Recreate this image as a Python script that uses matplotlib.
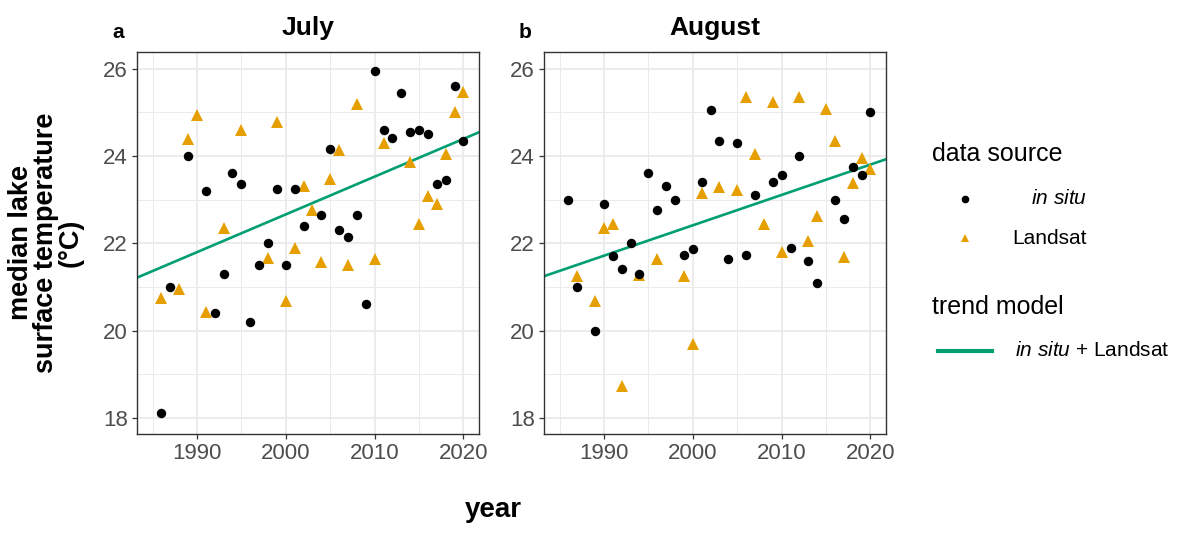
import numpy as np
import matplotlib.pyplot as plt
from matplotlib.ticker import MultipleLocator

plt.rcParams['font.family'] = ['Liberation Sans', 'DejaVu Sans']
plt.rcParams['mathtext.fontset'] = 'custom'
plt.rcParams['mathtext.rm'] = 'Liberation Sans'
plt.rcParams['mathtext.it'] = 'Liberation Sans:italic'

# July, in situ
jul_insitu_year = [1986, 1987, 1989, 1991, 1992, 1993, 1994, 1995, 1996, 1997, 1998,
                   1999, 2000, 2001, 2002, 2004, 2005, 2006, 2007, 2008, 2009, 2010,
                   2011, 2012, 2013, 2014, 2015, 2016, 2017, 2018, 2019, 2020]
jul_insitu_temp = [18.1, 21.0, 24.0, 23.2, 20.4, 21.3, 23.6, 23.35, 20.2, 21.5, 22.0,
                   23.25, 21.5, 23.25, 22.4, 22.65, 24.15, 22.3, 22.15, 22.65, 20.6, 25.95,
                   24.6, 24.4, 25.45, 24.55, 24.6, 24.5, 23.35, 23.45, 25.6, 24.35]
# July, Landsat
jul_landsat_year = [1986, 1988, 1989, 1990, 1991, 1993, 1995, 1998, 1999, 2000, 2001,
                    2002, 2003, 2004, 2005, 2006, 2007, 2008, 2010, 2011, 2014, 2015,
                    2016, 2017, 2018, 2019, 2020]
jul_landsat_temp = [20.75, 20.95, 24.38, 24.93, 20.42, 22.36, 24.59, 21.65, 24.78, 20.67, 21.88,
                    23.32, 22.75, 21.57, 23.46, 24.13, 21.5, 25.2, 21.63, 24.3, 23.85, 22.43,
                    23.08, 22.9, 24.04, 25.0, 25.47]

# August, in situ
aug_insitu_year = [1986, 1987, 1989, 1990, 1991, 1992, 1993, 1994, 1995, 1996, 1997,
                   1998, 1999, 2000, 2001, 2002, 2003, 2004, 2005, 2006, 2007, 2009,
                   2010, 2011, 2012, 2013, 2014, 2016, 2017, 2018, 2019, 2020]
aug_insitu_temp = [23.0, 21.0, 20.0, 22.9, 21.7, 21.4, 22.0, 21.3, 23.6, 22.76, 23.3,
                   23.0, 21.74, 21.86, 23.4, 25.05, 24.35, 21.64, 24.3, 21.74, 23.1, 23.4,
                   23.56, 21.9, 24.0, 21.6, 21.1, 23.0, 22.55, 23.75, 23.56, 25.0]
# August, Landsat
aug_landsat_year = [1987, 1989, 1990, 1991, 1992, 1994, 1996, 1999, 2000, 2001, 2003,
                    2005, 2006, 2007, 2008, 2009, 2010, 2012, 2013, 2014, 2015, 2016,
                    2017, 2018, 2019, 2020]
aug_landsat_temp = [21.25, 20.68, 22.36, 22.45, 18.73, 21.27, 21.64, 21.25, 19.7, 23.16, 23.29,
                    23.21, 25.34, 24.04, 22.44, 25.24, 21.8, 25.35, 22.06, 22.63, 25.08, 24.33,
                    21.69, 23.39, 23.96, 23.71]

# trend model (in situ + Landsat): value at 2000 and slope per year
jul_trend = (22.66, 0.0865)
aug_trend = (22.41, 0.0696)

months = ['July', 'August']
panel_tags = ['a', 'b']

fig = plt.figure(figsize=(12, 5.33), dpi=100)
W, H = 1200, 533
xlim = (1983.25, 2021.75)
ylim = (17.63, 26.38)

panels = [
    (137, jul_insitu_year, jul_insitu_temp, jul_landsat_year, jul_landsat_temp, jul_trend),
    (544, aug_insitu_year, aug_insitu_temp, aug_landsat_year, aug_landsat_temp, aug_trend),
]

for k, (left_px, iy, it, ly, lt, trend) in enumerate(panels):
    ax = fig.add_axes([left_px / W, 1 - 434 / H, 342 / W, 382 / H])
    ax.set_xlim(*xlim)
    ax.set_ylim(*ylim)
    ax.xaxis.set_major_locator(MultipleLocator(10))
    ax.xaxis.set_minor_locator(MultipleLocator(5))
    ax.yaxis.set_major_locator(MultipleLocator(2))
    ax.yaxis.set_minor_locator(MultipleLocator(1))
    ax.grid(which='major', color='#EBEBEB', linewidth=1.3)
    ax.grid(which='minor', color='#EBEBEB', linewidth=0.7)
    ax.set_axisbelow(True)
    ax.tick_params(which='major', length=3.5, width=0.9, color='#333333',
                   labelsize=16, labelcolor='#4D4D4D', pad=3)
    ax.tick_params(which='minor', length=0)
    for sp in ax.spines.values():
        sp.set_color('#333333')
        sp.set_linewidth(1.0)

    xs = np.array(xlim)
    ax.plot(xs, trend[0] + trend[1] * (xs - 2000), color='#009E73', lw=1.9, zorder=2)
    ax.plot(ly, lt, linestyle='none', marker='^', ms=8.5, color='#E69F00',
            markeredgewidth=0, zorder=3)
    ax.plot(iy, it, linestyle='none', marker='o', ms=6.8, color='black',
            markeredgewidth=0, zorder=4)

    ax.set_title(months[k], fontsize=19, fontweight='bold', pad=12)
    fig.text((left_px - 19) / W, 1 - 33 / H, panel_tags[k], fontsize=15,
             fontweight='bold', ha='center', va='center')

fig.text(46 / W, 1 - 243 / H, 'median lake\nsurface temperature\n(°C)',
         rotation=90, ha='center', va='center', fontsize=19.5, fontweight='bold',
         linespacing=0.95, multialignment='center')
fig.text(493 / W, 1 - 510 / H, 'year', ha='center', va='center',
         fontsize=20, fontweight='bold')

# legend
leg = fig.add_axes([0, 0, 1, 1], facecolor='none')
leg.set_xlim(0, W)
leg.set_ylim(H, 0)
leg.axis('off')
leg.text(932, 154, 'data source', fontsize=18, ha='left', va='center')
leg.plot([965], [199], marker='o', ms=4.5, color='black', linestyle='none')
leg.text(1087, 199, r'$\mathit{in\ situ}$', fontsize=15, ha='right', va='center')
leg.plot([965], [238], marker='^', ms=6, color='#E69F00', linestyle='none',
         markeredgewidth=0)
leg.text(1087, 238, 'Landsat', fontsize=15, ha='right', va='center')
leg.text(932, 307, 'trend model', fontsize=18, ha='left', va='center')
leg.plot([938, 992], [351, 351], color='#009E73', lw=3)
leg.text(1015, 351, r'$\mathit{in\ situ}$ + Landsat', fontsize=15, ha='left', va='center')

fig.savefig('out.png', dpi=100)
